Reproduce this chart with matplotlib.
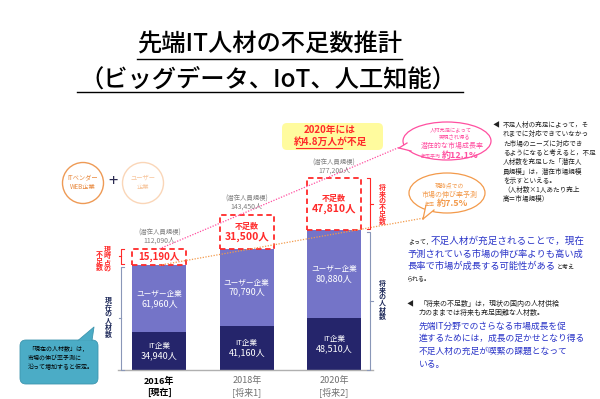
import matplotlib
matplotlib.use('Agg')
import matplotlib.pyplot as plt
from matplotlib.patches import Ellipse, FancyBboxPatch, Polygon, Circle
import numpy as np

plt.rcParams['font.family'] = ['Noto Sans CJK JP', 'DejaVu Sans']

# ---------------- data ----------------
years = ['2016年', '2018年', '2020年']
year_notes = ['[現在]', '[将来1]', '[将来2]']
it_staff = [34940, 41160, 48510]
user_staff = [61960, 70790, 80880]
shortage = [15190, 31500, 47810]
potential = [112090, 143450, 177200]

NAVY = '#25256B'
PURPLE = '#7474C8'
RED = '#FF2A2A'
PINK = '#FF4FA0'
ORANGE = '#F39A4B'
BLUE = '#2B35C8'
GRAY = '#808080'
BRK = '#8A97B8'

fig = plt.figure(figsize=(6, 3.99), dpi=100)
fig.patch.set_facecolor('white')

# ---------------- bar axes ----------------
ax = fig.add_axes([100/600, 1-370/399, 300/600, 200/399])
x = np.arange(len(years))
w = 0.62
cur = np.array(it_staff) + np.array(user_staff)
ax.bar(x, it_staff, w, color=NAVY)
ax.bar(x, user_staff, w, bottom=it_staff, color=PURPLE)
ax.bar(x, shortage, w, bottom=cur, facecolor='white', edgecolor=RED,
       linestyle=(0, (3, 2)), linewidth=1.3)
ax.set_xlim(-0.68, 2.755)
ax.set_ylim(0, 185000)
ax.axis('off')

for i in range(len(years)):
    mid = it_staff[i] / 2
    ax.annotate('IT企業', (i, mid), xytext=(0, 3.4), textcoords='offset points',
                ha='center', va='center', color='white', fontsize=5.5)
    ax.annotate(f'{it_staff[i]:,}人', (i, mid), xytext=(0, -3.6), textcoords='offset points',
                ha='center', va='center', color='white', fontsize=6.5)
    mid = it_staff[i] + user_staff[i] / 2
    ax.annotate('ユーザー企業', (i, mid), xytext=(0, 3.4), textcoords='offset points',
                ha='center', va='center', color='white', fontsize=5.5)
    ax.annotate(f'{user_staff[i]:,}人', (i, mid), xytext=(0, -3.6), textcoords='offset points',
                ha='center', va='center', color='white', fontsize=6.5)
    mid = cur[i] + shortage[i] / 2
    if i == 0:
        ax.text(i, mid, f'{shortage[i]:,}人', ha='center', va='center',
                color=RED, fontsize=7, fontweight='bold')
    else:
        ax.annotate('不足数', (i, mid), xytext=(0, 4), textcoords='offset points',
                    ha='center', va='center', color=RED, fontsize=5.8, fontweight='bold')
        ax.annotate(f'{shortage[i]:,}人', (i, mid), xytext=(0, -3.5), textcoords='offset points',
                    ha='center', va='center', color=RED, fontsize=7.5, fontweight='bold')

# ---------------- overlay (pixel coords) ----------------
ov = fig.add_axes([0, 0, 1, 1])
ov.set_xlim(0, 600)
ov.set_ylim(399, 0)
ov.axis('off')


def d2p(xd, yd):
    return ov.transData.inverted().transform(ax.transData.transform((xd, yd)))


# title
ov.text(270, 45, '先端IT人材の不足数推計', ha='center', va='center', fontsize=17.5,
        fontweight='medium', color='black')
ov.plot([137, 402], [59, 59], color='black', lw=1)
ov.text(268, 80, '（ビッグデータ、IoT、人工知能）', ha='center', va='center', fontsize=17.5,
        fontweight='medium', color='black')
ov.plot([77, 463], [92, 92], color='black', lw=1)

# baseline
base = d2p(0, 0)[1]
ov.plot([118, 373], [base, base], color='#B0B0B0', lw=1)

# potential labels and year labels
for i in range(len(years)):
    px, py = d2p(i, potential[i])
    ov.text(px, py - 16, '(潜在人員規模)', ha='center', va='center', fontsize=4.6, color=GRAY)
    ov.text(px, py - 8, f'{potential[i]:,}人', ha='center', va='center', fontsize=5, color=GRAY)
    bx = d2p(i, 0)[0]
    col = 'black' if i == 0 else '#707070'
    fw = 'bold' if i == 0 else 'normal'
    ov.text(bx, 381, years[i], ha='center', va='center', fontsize=6.5, color=col, fontweight=fw)
    ov.text(bx, 392, year_notes[i], ha='center', va='center', fontsize=6.5, color=col, fontweight=fw)

# dotted growth lines
p0 = d2p(0, potential[0])
ov.plot([p0[0], 400], [p0[1], 147], color=PINK, lw=0.9, ls=(0, (1, 1.2)))
c0 = d2p(0, cur[0])
ov.plot([c0[0], 424], [c0[1], 218], color=ORANGE, lw=0.9, ls=(0, (1, 1.2)))


def bubble(cx, cy, ww, hh, color, base1, base2, tip):
    ov.add_patch(Ellipse((cx, cy), ww, hh, facecolor='white', edgecolor=color, lw=0.9, zorder=5))
    ov.add_patch(Polygon([base1, base2, tip], closed=True, facecolor='white',
                         edgecolor='none', zorder=6))
    ov.plot([base1[0], tip[0]], [base1[1], tip[1]], color=color, lw=0.9, zorder=7)
    ov.plot([base2[0], tip[0]], [base2[1], tip[1]], color=color, lw=0.9, zorder=7)


# pink bubble
bubble(447, 141, 88, 38, PINK, (407, 143), (411, 151), (399, 148))
ov.text(451, 130.5, '人材充足によって', ha='center', va='center', fontsize=3.8, color=PINK, zorder=8)
ov.text(454, 137.5, '実現され得る', ha='center', va='center', fontsize=3.8, color=PINK, zorder=8)
ov.text(452, 145.5, '潜在的な市場成長率', ha='center', va='center', fontsize=5, color=PINK, zorder=8)
ov.text(421, 156, '年率平均', ha='left', va='center', fontsize=3.6, color=PINK, zorder=8)
ov.text(442, 155.5, '約12.1%', ha='left', va='center', fontsize=6.5, color=PINK,
        fontweight='bold', zorder=8)

# orange bubble
bubble(447, 193, 76, 40, ORANGE, (426, 205), (434, 210), (423, 219))
ov.text(450, 185.5, '現時点での', ha='center', va='center', fontsize=4.2, color=ORANGE, zorder=8)
ov.text(450, 194.5, '市場の伸び率予測', ha='center', va='center', fontsize=5, color=ORANGE, zorder=8)
ov.text(425, 204, '年率', ha='left', va='center', fontsize=3.6, color=ORANGE, zorder=8)
ov.text(437, 203.5, '約7.5%', ha='left', va='center', fontsize=6.5, color=ORANGE,
        fontweight='bold', zorder=8)

# yellow box
ov.add_patch(FancyBboxPatch((282, 123), 101, 27, boxstyle='round,pad=0,rounding_size=5',
                            facecolor='#FFFB9E', edgecolor='none'))
ov.text(330, 130.5, '2020年には', ha='center', va='center', fontsize=7, color=RED, fontweight='bold')
ov.text(330, 141.5, '約4.8万人が不足', ha='center', va='center', fontsize=7, color=RED, fontweight='bold')
ov.plot([296, 342], [148, 148], color=RED, lw=0.8)

# circles
ov.add_patch(Circle((83, 183), 20.5, facecolor='white', edgecolor='#EE9A55', lw=1))
ov.text(83, 178, 'ITベンダー', ha='center', va='center', fontsize=4.5, color='#E8873A')
ov.text(83, 187, 'WEB企業', ha='center', va='center', fontsize=4.5, color='#E8873A')
ov.text(113, 182, '+', ha='center', va='center', fontsize=12, color='#2A2A50')
ov.add_patch(Circle((143, 183), 20.5, facecolor='white', edgecolor='#FAD6B8', lw=1))
ov.text(143, 178, 'ユーザー', ha='center', va='center', fontsize=4.5, color='#F7C49A')
ov.text(143, 187, '企業', ha='center', va='center', fontsize=4.5, color='#F7C49A')


# brackets
def bracket(xb, y0, y1, side, color):
    ov.plot([xb + side * 3, xb, xb, xb + side * 3], [y0, y0, y1, y1], color=color, lw=0.8)
    ym = (y0 + y1) / 2
    ov.plot([xb, xb - side * 2.5], [ym, ym], color=color, lw=0.8)


def vtext(xc, yc, s, color, size):
    ov.text(xc, yc, '\n'.join(s), ha='center', va='center', fontsize=size, color=color,
            fontweight='bold', linespacing=0.95)


top0 = d2p(0, potential[0])[1]
cur0 = d2p(0, cur[0])[1]
bracket(121, top0, cur0 - 1.5, 1, RED)
bracket(121, cur0 + 1.5, base, 1, BRK)
vtext(107, (top0 + cur0) / 2 + 2, '現時点の', RED, 5)
vtext(99, (top0 + cur0) / 2 + 4, '不足数', RED, 5)
vtext(108, (cur0 + base) / 2, '現在の人材数', '#1F2A5A', 5)

top2 = d2p(2, potential[2])[1]
cur2 = d2p(2, cur[2])[1]
bracket(370, top2, cur2 - 1.5, -1, RED)
bracket(370, cur2 + 1.5, base, -1, BRK)
vtext(382, (top2 + cur2) / 2, '将来の不足数', RED, 5)
vtext(382, (cur2 + base) / 2, '将来の人材数', '#1F2A5A', 5)

# teal callout
TEAL = '#4BACC6'
ov.add_patch(FancyBboxPatch((20, 340), 78, 44, boxstyle='round,pad=0,rounding_size=6',
                            facecolor=TEAL, edgecolor='#3E95AE', lw=0.6))
ov.add_patch(Polygon([(78, 340.5), (92, 340.5), (94, 327)], closed=True,
                     facecolor=TEAL, edgecolor='none'))
ov.plot([78, 94, 92], [340.5, 327, 340.5], color='#3E95AE', lw=0.6)
for k, s in enumerate(['「現在の人材数」は，', '市場の伸び率予測に', '沿って増加すると仮定。']):
    ov.text(28, 349 + 9 * k, s, ha='left', va='center', fontsize=4.3, color='black')

# right upper explanation
ov.text(493, 125, '◀', ha='left', va='center', fontsize=5, color='#222222')
right_lines = ['不足人材の充足によって，そ', 'れまでに対応できていなかっ', 'た市場のニーズに対応でき',
               'るようになると考えると，不足', '人材数を充足した「潜在人', '員規模」は，潜在市場規模',
               'を示すといえる。', '（人材数×1人あたり売上', '高＝市場規模）']
for k, s in enumerate(right_lines):
    ov.text(503, 125 + 9.3 * k, s, ha='left', va='center', fontsize=4.75, color='#222222')

# blue middle statement
ov.text(408, 242, 'よって，', ha='left', va='center', fontsize=4.3, color='#222222')
ov.text(431, 241, '不足人材が充足されることで，現在', ha='left', va='center', fontsize=6.9, color=BLUE)
ov.text(407, 254.5, '予測されている市場の伸び率よりも高い成', ha='left', va='center', fontsize=6.7, color=BLUE)
ov.text(407, 266.5, '長率で市場が成長する可能性がある', ha='left', va='center', fontsize=6.7, color=BLUE)
ov.text(557, 267.5, 'と考え', ha='left', va='center', fontsize=4.3, color='#222222')
ov.text(407, 278, 'られる。', ha='left', va='center', fontsize=4.3, color='#222222')

# bottom right statement
ov.text(407, 304, '◀', ha='left', va='center', fontsize=5, color='#222222')
ov.text(419, 304, '「将来の不足数」は，現状の国内の人材供給', ha='left', va='center', fontsize=5, color='#222222')
ov.text(419, 313, '力のままでは将来も充足困難な人材数。', ha='left', va='center', fontsize=5, color='#222222')
blue_lines = ['先端IT分野でのさらなる市場成長を促', '進するためには，成長の足かせとなり得る',
              '不足人材の充足が喫緊の課題となって', 'いる。']
for k, s in enumerate(blue_lines):
    ov.text(419, 326 + 12.7 * k, s, ha='left', va='center', fontsize=6.3, color=BLUE)

fig.savefig('out.png', dpi=100, facecolor='white')
